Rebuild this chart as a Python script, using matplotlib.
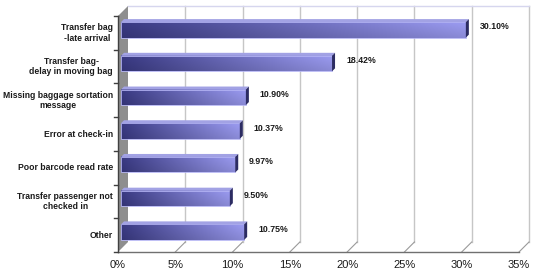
import numpy as np
import matplotlib
matplotlib.use('Agg')
import matplotlib.pyplot as plt
from matplotlib.patches import Polygon, Rectangle
from matplotlib.lines import Line2D
from matplotlib.transforms import offset_copy, IdentityTransform
from matplotlib.colors import to_rgb

plt.rcParams['font.family'] = ['Liberation Sans', 'DejaVu Sans']

# Data
categories = [
    'Transfer bag\n-late arrival',
    'Transfer bag-\ndelay in moving bag',
    'Missing baggage sortation\nmessage',
    'Error at check-in',
    'Poor barcode read rate',
    'Transfer passenger not\nchecked in',
    'Other',
]
values = [30.10, 18.42, 10.90, 10.37, 9.97, 9.50, 10.75]
x_ticks = [0, 5, 10, 15, 20, 25, 30, 35]

# 3D look (pixel offsets)
DEPTH = 10
BAR_FRONT = 3
BAR_BACK = 6
BAR_H = 0.46

W, H = 538, 276
fig = plt.figure(figsize=(W / 100, H / 100), dpi=100)
fig.patch.set_facecolor('white')
ax = fig.add_axes([118 / W, 24 / H, 401 / W, 236 / H])
n = len(categories)
ax.set_xlim(0, 35)
ax.set_ylim(n - 0.5, -0.5)
ax.axis('off')

ident = IdentityTransform()


def disp(x, y, d=0):
    px, py = ax.transData.transform((x, y))
    return (px + d, py + d)


def poly(pts, **kw):
    ax.add_patch(Polygon(pts, closed=True, transform=ident, clip_on=False, **kw))


def line(p0, p1, **kw):
    ax.add_line(Line2D([p0[0], p1[0]], [p0[1], p1[1]], transform=ident,
                       clip_on=False, **kw))


y_top, y_bot = -0.5, n - 0.5

# back wall gridlines + floor lines
for t in x_ticks[1:]:
    line(disp(t, y_bot, DEPTH), disp(t, y_top, DEPTH), color='#c6c6c6', lw=1.0, zorder=1)
    line(disp(t, y_bot, 0), disp(t, y_bot, DEPTH), color='#9a9a9a', lw=0.8, zorder=1)
line(disp(0, y_top, DEPTH), disp(35, y_top, DEPTH), color='#d6d6ee', lw=1.0, zorder=1)

# left side wall
poly([disp(0, y_top, 0), disp(0, y_top, DEPTH), disp(0, y_bot, DEPTH), disp(0, y_bot, 0)],
     facecolor='#8e8e8e', edgecolor='none', zorder=1)

# axes lines
line(disp(0, y_bot), disp(35, y_bot), color='#707070', lw=1.0, zorder=2)
line(disp(0, y_top), disp(0, y_bot), color='#404040', lw=1.0, zorder=2)
for k in range(n + 1):
    p = disp(0, k - 0.5)
    line(p, (p[0] - 4, p[1]), color='#404040', lw=1.0, zorder=2)

# bar gradient image
c_left = np.array(to_rgb('#3a3a84'))
c_right = np.array(to_rgb('#9c9cf2'))
hx = np.linspace(0, 1, 200)[None, :, None]
vy = np.linspace(0, 1, 24)[:, None, None]
base = c_left * (1 - hx) + c_right * hx
shade = 1.0 - 0.12 * vy
grad = np.clip(base * shade, 0, 1)

front_tr = offset_copy(ax.transData, fig, x=BAR_FRONT, y=BAR_FRONT, units='dots')
for i, v in enumerate(values):
    y0, y1 = i - BAR_H / 2, i + BAR_H / 2
    ax.imshow(grad, extent=(0, v, y1, y0), transform=front_tr, aspect='auto',
              interpolation='bilinear', zorder=3, clip_on=False)
    ax.add_patch(Rectangle((0, y0), v, BAR_H, transform=front_tr, facecolor='none',
                           edgecolor='#b4b4f4', lw=0.6, zorder=3.5, clip_on=False))
    poly([disp(0, y0, BAR_FRONT), disp(v, y0, BAR_FRONT), disp(v, y0, BAR_BACK), disp(0, y0, BAR_BACK)],
         facecolor='#a2a2e4', edgecolor='none', zorder=4)
    poly([disp(v, y0, BAR_FRONT), disp(v, y0, BAR_BACK), disp(v, y1, BAR_BACK), disp(v, y1, BAR_FRONT)],
         facecolor='#2c2c62', edgecolor='none', zorder=4)
    ax.text(v, i, f'{v:.2f}%', transform=offset_copy(ax.transData, fig, x=17, y=6, units='dots'),
            ha='left', va='center', fontsize=6.3, fontweight='bold', color='#1a1a1a')

ax.set_xlim(0, 35)
ax.set_ylim(n - 0.5, -0.5)

# category labels
lab_tr = offset_copy(ax.transData, fig, x=-5, y=0, units='dots')
for i, lab in enumerate(categories):
    ax.text(0, i, lab, transform=lab_tr, ha='right', va='center', multialignment='center',
            fontsize=6.2, fontweight='bold', color='#1a1a1a')

# x tick labels
tick_tr = offset_copy(ax.transData, fig, x=0, y=-8, units='dots')
for t in x_ticks:
    ax.text(t, y_bot, f'{t}%', transform=tick_tr, ha='center', va='top', fontsize=8, color='#1a1a1a')

fig.savefig('out.png', dpi=100, facecolor='white')
